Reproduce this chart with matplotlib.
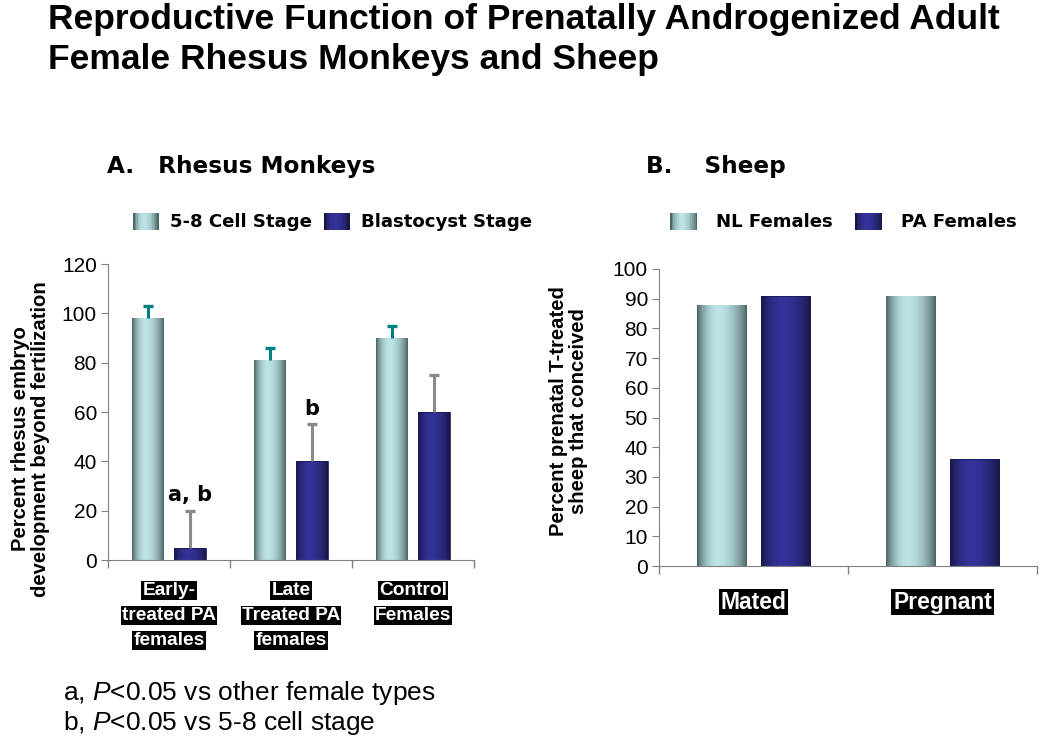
import matplotlib
matplotlib.use("Agg")
import matplotlib.pyplot as plt
import numpy as np
from matplotlib.patches import Rectangle, Patch
from matplotlib.legend_handler import HandlerBase

plt.rcParams['mathtext.fontset'] = 'custom'
plt.rcParams['mathtext.rm'] = 'Liberation Sans'
plt.rcParams['mathtext.it'] = 'Liberation Sans:italic'

# data
rhesus_groups = ["Early-\ntreated PA\nfemales", "Late\nTreated PA\nfemales", "Control\nFemales"]
cell_stage = [98, 81, 90]
cell_err = [5, 5, 5]
blasto = [5, 40, 60]
blasto_err = [15, 15, 15]
rhesus_marks = ["a, b", "b", ""]

sheep_groups = ["Mated", "Pregnant"]
nl_females = [88, 91]
pa_females = [91, 36]

CYAN = ((0.74, 0.89, 0.90), (0.30, 0.40, 0.40))
NAVY = ((0.20, 0.20, 0.60), (0.09, 0.09, 0.27))


def grad_colors(light, dark, n=40, peak=0.42):
    t = np.linspace(0, 1, n)
    d = np.where(t < peak, (peak - t) / peak, (t - peak) / (1 - peak))
    f = np.cos(d * np.pi / 2) ** 0.8
    light = np.array(light)
    dark = np.array(dark)
    return dark + (light - dark) * f[:, None]


class GradHandler(HandlerBase):
    def __init__(self, cols):
        super().__init__()
        self.cols = grad_colors(*cols, n=16)

    def create_artists(self, legend, orig_handle, xdescent, ydescent,
                       width, height, fontsize, trans):
        n = len(self.cols)
        arts = []
        for i, c in enumerate(self.cols):
            arts.append(Rectangle((-xdescent + width * i / n, -ydescent),
                                  width / n * 1.05, height, fc=c, ec='none',
                                  transform=trans))
        return arts


def grad_bars(ax, x, h, w, cols, edge):
    bars = ax.bar(x, h, w, facecolor='none', edgecolor=edge, linewidth=0.6, zorder=3)
    img = grad_colors(*cols)[None, :, :]
    for r in bars:
        im = ax.imshow(img, extent=(r.get_x(), r.get_x() + r.get_width(), 0, r.get_height()),
                       aspect='auto', interpolation='bilinear', zorder=2.5)
        im.set_clip_path(r)
    return bars


def style_axes(ax, n):
    for s in ['top', 'right']:
        ax.spines[s].set_visible(False)
    for s in ['left', 'bottom']:
        ax.spines[s].set_color('#808080')
    ax.set_xlim(-0.5, n - 0.5)
    ax.set_xticks(np.arange(n))
    ax.set_xticklabels([''] * n)
    ax.tick_params(axis='x', which='major', length=0)
    ax.set_xticks(np.arange(-0.5, n), minor=True)
    ax.tick_params(axis='x', which='minor', length=6, color='#808080', width=1)
    ax.tick_params(axis='y', length=5, color='#808080', labelsize=15, pad=3)
    for lab in ax.get_yticklabels():
        lab.set_fontfamily('Liberation Sans')


fig = plt.figure(figsize=(10.5, 7.51), dpi=100)

fig.text(48 / 1050, 1 - 3 / 751,
         "Reproductive Function of Prenatally Androgenized Adult\nFemale Rhesus Monkeys and Sheep",
         fontsize=25.5, fontweight='bold', family='Liberation Sans', va='top', ha='left',
         linespacing=1.25)

fig.text(107 / 1050, 1 - 167 / 751, "A.   Rhesus Monkeys", fontsize=16.7, fontweight='bold',
         family='DejaVu Sans', va='center', ha='left')
fig.text(646 / 1050, 1 - 167 / 751, "B.    Sheep", fontsize=16.7, fontweight='bold',
         family='DejaVu Sans', va='center', ha='left')

# A. rhesus monkeys
ax1 = fig.add_axes([108 / 1050, 1 - 560 / 751, 366 / 1050, 296 / 751])
x1 = np.arange(len(rhesus_groups))
off, w = 0.17, 0.26
grad_bars(ax1, x1 - off, cell_stage, w, CYAN, 'none')
grad_bars(ax1, x1 + off, blasto, w, NAVY, '#1a1a60')
e1 = ax1.errorbar(x1 - off, cell_stage, yerr=[np.zeros(3), cell_err], fmt='none',
                  ecolor='#008080', elinewidth=2.2, capsize=3.8, capthick=2.4, zorder=4)
e2 = ax1.errorbar(x1 + off, blasto, yerr=[np.zeros(3), blasto_err], fmt='none',
                  ecolor='#8a8a8a', elinewidth=2.2, capsize=3.8, capthick=2.4, zorder=4)
e1[1][0].set_visible(False)
e2[1][0].set_visible(False)
for xi, v, er, m in zip(x1 + off, blasto, blasto_err, rhesus_marks):
    if m:
        ax1.annotate(m, xy=(xi, v + er), xytext=(0, 7), textcoords='offset points',
                     ha='center', va='baseline', fontsize=15, fontweight='bold',
                     family='DejaVu Sans')
style_axes(ax1, 3)
ax1.set_ylim(0, 120)
ax1.set_yticks(np.arange(0, 121, 20))
for xi, lab in zip(x1, rhesus_groups):
    for j, line in enumerate(lab.split('\n')):
        ax1.annotate(line, xy=(xi, 0), xycoords=('data', 'axes fraction'),
                     xytext=(0, -22 - 18 * j), textcoords='offset points',
                     ha='center', va='center', fontsize=13.8, fontweight='bold',
                     family='Liberation Sans', color='white',
                     bbox=dict(boxstyle='square,pad=0.06', fc='black', ec='none'))
ax1.set_ylabel("Percent rhesus embryo\ndevelopment beyond fertilization", fontsize=14.6,
               fontweight='bold', family='Liberation Sans', linespacing=1.05)
ax1.yaxis.set_label_coords(-0.158, 0.41)

h1 = [Patch(), Patch()]
ax1.legend(h1, ["5-8 Cell Stage", "Blastocyst Stage"], ncol=2, frameon=False,
           handler_map={h1[0]: GradHandler(CYAN), h1[1]: GradHandler(NAVY)},
           loc='center left', bbox_to_anchor=(133 / 1050, 1 - 222 / 751),
           bbox_transform=fig.transFigure, borderpad=0, borderaxespad=0,
           handlelength=1.4, handleheight=1.05, handletextpad=0.65, columnspacing=0.65,
           prop=dict(family='DejaVu Sans', weight='bold', size=13.1))

# B. sheep
ax2 = fig.add_axes([659 / 1050, 1 - 566 / 751, 378 / 1050, 297 / 751])
x2 = np.arange(len(sheep_groups))
grad_bars(ax2, x2 - 0.17, nl_females, w, CYAN, 'none')
grad_bars(ax2, x2 + 0.17, pa_females, w, NAVY, '#1a1a60')
style_axes(ax2, 2)
ax2.set_ylim(0, 100)
ax2.set_yticks(np.arange(0, 101, 10))
for xi, lab in zip(x2, sheep_groups):
    ax2.annotate(lab, xy=(xi, 0), xycoords=('data', 'axes fraction'),
                 xytext=(0, -26), textcoords='offset points',
                 ha='center', va='center', fontsize=16.5, fontweight='bold',
                 family='Liberation Sans', color='white',
                 bbox=dict(boxstyle='square,pad=0.08', fc='black', ec='none'))
ax2.set_ylabel("Percent prenatal T-treated\nsheep that conceived", fontsize=14.6,
               fontweight='bold', family='Liberation Sans', linespacing=1.05)
ax2.yaxis.set_label_coords(-0.188, 0.52)

h2 = [Patch(), Patch()]
ax2.legend(h2, ["NL Females", "PA Females"], ncol=2, frameon=False,
           handler_map={h2[0]: GradHandler(CYAN), h2[1]: GradHandler(NAVY)},
           loc='center left', bbox_to_anchor=(670 / 1050, 1 - 222 / 751),
           bbox_transform=fig.transFigure, borderpad=0, borderaxespad=0,
           handlelength=1.5, handleheight=1.05, handletextpad=1.05, columnspacing=1.2,
           prop=dict(family='DejaVu Sans', weight='bold', size=13.1))

fig.text(63 / 1050, 1 - 693 / 751, "a, $\\mathit{P}$<0.05 vs other female types",
         fontsize=19, family='Liberation Sans', va='center', ha='left')
fig.text(63 / 1050, 1 - 723 / 751, "b, $\\mathit{P}$<0.05 vs 5-8 cell stage",
         fontsize=19, family='Liberation Sans', va='center', ha='left')

fig.savefig("out.png", dpi=100)
